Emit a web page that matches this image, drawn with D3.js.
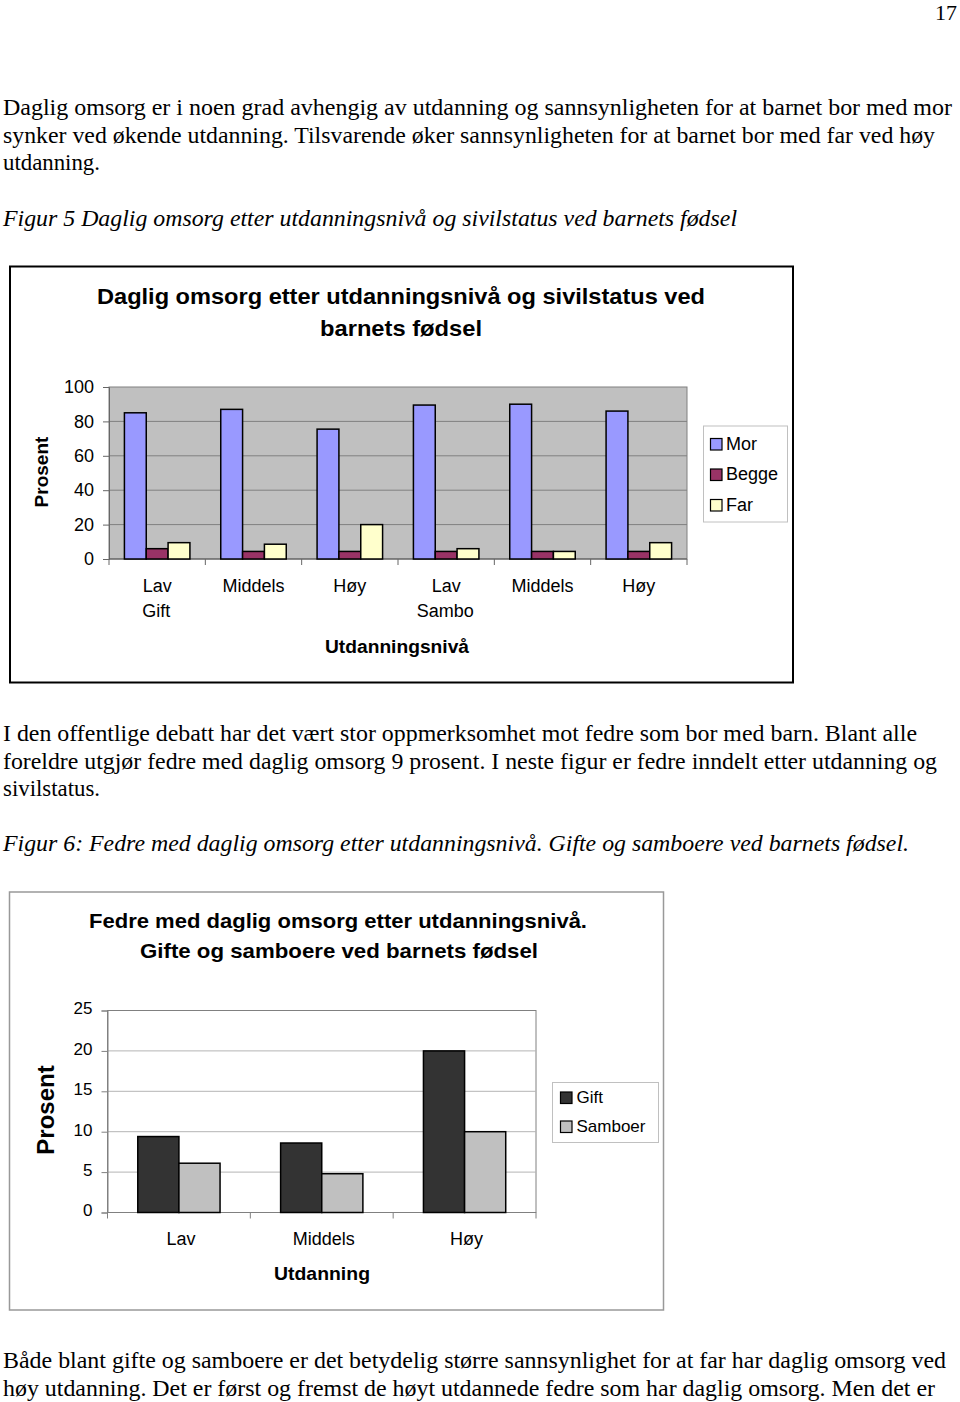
<!DOCTYPE html>
<html>
<head>
<meta charset="utf-8">
<script src="https://cdn.jsdelivr.net/npm/d3@7"></script>
<style>
  html, body { margin: 0; padding: 0; background: #fff; }
  svg { display: block; }
</style>
</head>
<body>
<script>
// ---------- DATA ----------
const cats1 = ["Lav", "Middels", "Høy", "Lav", "Middels", "Høy"];
const groups1 = ["Gift", "", "", "Sambo", "", ""];
const series1 = ["Mor", "Begge", "Far"];
const mor = [85, 87, 75.5, 89.5, 90, 86];
const begge = [6, 4.4, 4.4, 4.4, 4.4, 4.4];
const far = [9.5, 8.6, 20, 6, 4.4, 9.5];
const ticks1 = [0, 20, 40, 60, 80, 100];

const cats2 = ["Lav", "Middels", "Høy"];
const series2 = ["Gift", "Samboer"];
const gift = [9.4, 8.6, 20];
const samboer = [6.1, 4.8, 10];
const ticks2 = [0, 5, 10, 15, 20, 25];

const bodyLines = [
  {t: "17", x: 957, y: 20, anchor: "end", fs: 22},
  {t: "Daglig omsorg er i noen grad avhengig av utdanning og sannsynligheten for at barnet bor med mor", x: 3, y: 115, w: 949},
  {t: "synker ved økende utdanning. Tilsvarende øker sannsynligheten for at barnet bor med far ved høy", x: 3, y: 143, w: 932},
  {t: "utdanning.", x: 3, y: 170, w: 97},
  {t: "Figur 5 Daglig omsorg etter utdanningsnivå og sivilstatus ved barnets fødsel", x: 3, y: 226, w: 734, italic: true},
  {t: "I den offentlige debatt har det vært stor oppmerksomhet mot fedre som bor med barn. Blant alle", x: 3, y: 741, w: 914},
  {t: "foreldre utgjør fedre med daglig omsorg 9 prosent. I neste figur er fedre inndelt etter utdanning og", x: 3, y: 769, w: 934},
  {t: "sivilstatus.", x: 3, y: 796, w: 97},
  {t: "Figur 6: Fedre med daglig omsorg etter utdanningsnivå. Gifte og samboere ved barnets fødsel.", x: 3, y: 851, w: 906, italic: true},
  {t: "Både blant gifte og samboere er det betydelig større sannsynlighet for at far har daglig omsorg ved", x: 3, y: 1368, w: 943},
  {t: "høy utdanning. Det er først og fremst de høyt utdannede fedre som har daglig omsorg. Men det er", x: 3, y: 1396, w: 932}
];

// ---------- SVG ----------
const W = 960, H = 1402;
const svg = d3.select("body").append("svg").attr("width", W).attr("height", H);
svg.append("rect").attr("width", W).attr("height", H).attr("fill", "#fff");

const serif = "'Liberation Serif', 'Times New Roman', serif";
const sans = "'Liberation Sans', Arial, sans-serif";

bodyLines.forEach(l => {
  const t = svg.append("text")
    .attr("x", l.x).attr("y", l.y)
    .attr("font-family", serif).attr("font-size", l.fs || 24)
    .attr("font-style", l.italic ? "italic" : "normal")
    .attr("text-anchor", l.anchor || "start")
    .attr("fill", "#000")
    .text(l.t);
  if (l.w) t.attr("textLength", l.w).attr("lengthAdjust", "spacingAndGlyphs");
});

// ---------- CHART 1 ----------
const c1 = svg.append("g");
c1.append("rect").attr("x", 10).attr("y", 266.5).attr("width", 783).attr("height", 416)
  .attr("fill", "#fff").attr("stroke", "#000").attr("stroke-width", 2);

c1.append("text").attr("x", 401).attr("y", 304).attr("text-anchor", "middle")
  .attr("font-family", sans).attr("font-weight", "bold").attr("font-size", 22)
  .attr("textLength", 608).attr("lengthAdjust", "spacingAndGlyphs")
  .text("Daglig omsorg etter utdanningsnivå og sivilstatus ved");
c1.append("text").attr("x", 401).attr("y", 336).attr("text-anchor", "middle")
  .attr("font-family", sans).attr("font-weight", "bold").attr("font-size", 22)
  .attr("textLength", 162).attr("lengthAdjust", "spacingAndGlyphs")
  .text("barnets fødsel");

const x1 = d3.scaleBand().domain(d3.range(cats1.length)).range([109, 687])
  .paddingInner(0.32).paddingOuter(0.16);
const xs1 = d3.scaleBand().domain(series1).range([0, x1.bandwidth()]);
const y1 = d3.scaleLinear().domain([0, 100]).range([559, 387]);
const col1 = {Mor: "#9999ff", Begge: "#993366", Far: "#ffffcc"};
const vals1 = {Mor: mor, Begge: begge, Far: far};

c1.append("rect").attr("x", x1.range()[0]).attr("y", y1(100))
  .attr("width", x1.range()[1] - x1.range()[0]).attr("height", y1(0) - y1(100))
  .attr("fill", "#c0c0c0").attr("stroke", "#808080").attr("stroke-width", 1);

c1.append("g").selectAll("line").data(ticks1.filter(d => d > 0 && d < 100)).join("line")
  .attr("x1", x1.range()[0]).attr("x2", x1.range()[1])
  .attr("y1", d => y1(d)).attr("y2", d => y1(d))
  .attr("stroke", "#808080").attr("stroke-width", 1);

const ax1 = c1.append("g").attr("transform", `translate(${x1.range()[0]},0)`)
  .call(d3.axisLeft(y1).tickValues(ticks1).tickSize(6).tickPadding(9));
ax1.select(".domain").attr("stroke", "#666");
ax1.selectAll(".tick line").attr("stroke", "#666");
ax1.selectAll("text").attr("font-family", sans).attr("font-size", 18).attr("fill", "#000");

c1.append("line").attr("x1", x1.range()[0]).attr("x2", x1.range()[1])
  .attr("y1", y1(0)).attr("y2", y1(0)).attr("stroke", "#555").attr("stroke-width", 1.2);
const bounds1 = d3.range(cats1.length + 1).map(i => x1.range()[0] + i * x1.step());
c1.append("g").selectAll("line").data(bounds1).join("line")
  .attr("x1", d => d).attr("x2", d => d).attr("y1", y1(0)).attr("y2", y1(0) + 6)
  .attr("stroke", "#666");

series1.forEach(s => {
  c1.append("g").selectAll("rect").data(vals1[s]).join("rect")
    .attr("x", (d, i) => x1(i) + xs1(s))
    .attr("y", d => y1(d))
    .attr("width", xs1.bandwidth())
    .attr("height", d => y1(0) - y1(d))
    .attr("fill", col1[s]).attr("stroke", "#000").attr("stroke-width", 1.5);
});

c1.append("g").selectAll("text").data(cats1).join("text")
  .attr("x", (d, i) => x1(i) + x1.bandwidth() / 2).attr("y", 592)
  .attr("text-anchor", "middle").attr("font-family", sans).attr("font-size", 18)
  .text(d => d);
c1.append("g").selectAll("text").data(groups1).join("text")
  .attr("x", (d, i) => x1(i) + x1.bandwidth() / 2 - 1).attr("y", 617)
  .attr("text-anchor", "middle").attr("font-family", sans).attr("font-size", 18)
  .text(d => d);

c1.append("text").attr("x", 397).attr("y", 653).attr("text-anchor", "middle")
  .attr("font-family", sans).attr("font-weight", "bold").attr("font-size", 18)
  .attr("textLength", 144).attr("lengthAdjust", "spacingAndGlyphs")
  .text("Utdanningsnivå");
c1.append("text").attr("transform", "translate(48,472) rotate(-90)").attr("text-anchor", "middle")
  .attr("font-family", sans).attr("font-weight", "bold").attr("font-size", 19)
  .text("Prosent");

// legend 1
const lg1 = c1.append("g");
lg1.append("rect").attr("x", 703.5).attr("y", 426).attr("width", 84).attr("height", 96)
  .attr("fill", "#fff").attr("stroke", "#c0c0c0");
series1.forEach((s, i) => {
  const yy = 438.5 + i * 30.5;
  lg1.append("rect").attr("x", 710.5).attr("y", yy).attr("width", 11.5).attr("height", 11.5)
    .attr("fill", col1[s]).attr("stroke", "#000").attr("stroke-width", 1.2);
  lg1.append("text").attr("x", 726).attr("y", yy + 11).attr("font-family", sans)
    .attr("font-size", 18).text(s);
});

// ---------- CHART 2 ----------
const c2 = svg.append("g");
c2.append("rect").attr("x", 9.5).attr("y", 892).attr("width", 654).attr("height", 418)
  .attr("fill", "#fff").attr("stroke", "#999").attr("stroke-width", 1.5);

c2.append("text").attr("x", 338).attr("y", 928).attr("text-anchor", "middle")
  .attr("font-family", sans).attr("font-weight", "bold").attr("font-size", 21)
  .attr("textLength", 498).attr("lengthAdjust", "spacingAndGlyphs")
  .text("Fedre med daglig omsorg etter utdanningsnivå.");
c2.append("text").attr("x", 339).attr("y", 958).attr("text-anchor", "middle")
  .attr("font-family", sans).attr("font-weight", "bold").attr("font-size", 21)
  .attr("textLength", 398).attr("lengthAdjust", "spacingAndGlyphs")
  .text("Gifte og samboere ved barnets fødsel");

const x2 = d3.scaleBand().domain(d3.range(cats2.length)).range([107.5, 536])
  .paddingInner(0.424).paddingOuter(0.212);
const xs2 = d3.scaleBand().domain(series2).range([0, x2.bandwidth()]);
const y2 = d3.scaleLinear().domain([0, 25]).range([1212.5, 1010.5]);
const col2 = {Gift: "#333333", Samboer: "#c0c0c0"};
const vals2 = {Gift: gift, Samboer: samboer};

c2.append("rect").attr("x", x2.range()[0]).attr("y", y2(25))
  .attr("width", x2.range()[1] - x2.range()[0]).attr("height", y2(0) - y2(25))
  .attr("fill", "#fff").attr("stroke", "#808080").attr("stroke-width", 1);

c2.append("g").selectAll("line").data(ticks2.filter(d => d > 0 && d < 25)).join("line")
  .attr("x1", x2.range()[0]).attr("x2", x2.range()[1])
  .attr("y1", d => y2(d)).attr("y2", d => y2(d))
  .attr("stroke", "#b4b4b4").attr("stroke-width", 1);

const ax2 = c2.append("g").attr("transform", `translate(${x2.range()[0]},0)`)
  .call(d3.axisLeft(y2).tickValues(ticks2).tickSize(6).tickPadding(9));
ax2.select(".domain").attr("stroke", "#808080");
ax2.selectAll(".tick line").attr("stroke", "#808080");
ax2.selectAll("text").attr("font-family", sans).attr("font-size", 17).attr("fill", "#000")
  .attr("dy", "0.2em");

c2.append("line").attr("x1", x2.range()[0]).attr("x2", x2.range()[1])
  .attr("y1", y2(0)).attr("y2", y2(0)).attr("stroke", "#808080").attr("stroke-width", 1.2);
const bounds2 = d3.range(cats2.length + 1).map(i => x2.range()[0] + i * x2.step());
c2.append("g").selectAll("line").data(bounds2).join("line")
  .attr("x1", d => d).attr("x2", d => d).attr("y1", y2(0)).attr("y2", y2(0) + 6)
  .attr("stroke", "#808080");

series2.forEach(s => {
  c2.append("g").selectAll("rect").data(vals2[s]).join("rect")
    .attr("x", (d, i) => x2(i) + xs2(s))
    .attr("y", d => y2(d))
    .attr("width", xs2.bandwidth())
    .attr("height", d => y2(0) - y2(d))
    .attr("fill", col2[s]).attr("stroke", "#000").attr("stroke-width", 1.5);
});

c2.append("g").selectAll("text").data(cats2).join("text")
  .attr("x", (d, i) => x2(i) + x2.bandwidth() / 2 + 2).attr("y", 1245)
  .attr("text-anchor", "middle").attr("font-family", sans).attr("font-size", 18)
  .text(d => d);

c2.append("text").attr("x", 322).attr("y", 1280).attr("text-anchor", "middle")
  .attr("font-family", sans).attr("font-weight", "bold").attr("font-size", 19)
  .attr("textLength", 96).attr("lengthAdjust", "spacingAndGlyphs")
  .text("Utdanning");
c2.append("text").attr("transform", "translate(54,1110) rotate(-90)").attr("text-anchor", "middle")
  .attr("font-family", sans).attr("font-weight", "bold").attr("font-size", 24)
  .text("Prosent");

// legend 2
const lg2 = c2.append("g");
lg2.append("rect").attr("x", 552.5).attr("y", 1082.5).attr("width", 106).attr("height", 60)
  .attr("fill", "#fff").attr("stroke", "#c0c0c0");
series2.forEach((s, i) => {
  const yy = 1092 + i * 29;
  lg2.append("rect").attr("x", 560.5).attr("y", yy).attr("width", 11.5).attr("height", 11.5)
    .attr("fill", col2[s]).attr("stroke", "#000").attr("stroke-width", 1.2);
  lg2.append("text").attr("x", 576.5).attr("y", yy + 10.5).attr("font-family", sans)
    .attr("font-size", 17).text(s);
});
</script>
</body>
</html>
